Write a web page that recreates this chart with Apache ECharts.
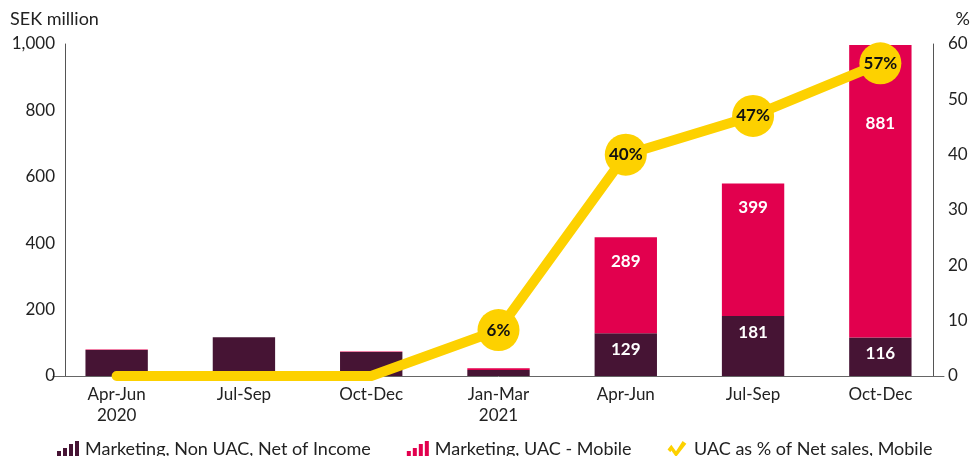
<!DOCTYPE html>
<html>
<head>
<meta charset="utf-8">
<script src="https://cdn.jsdelivr.net/npm/echarts@6/dist/echarts.min.js"></script>
<style>html,body{margin:0;padding:0;background:#fff}#c{width:978px;height:456px}</style>
</head>
<body>
<div id="c"></div>
<script>
var categories = ['Apr-Jun\n2020', 'Jul-Sep', 'Oct-Dec', 'Jan-Mar\n2021', 'Apr-Jun', 'Jul-Sep', 'Oct-Dec'];
var nonUac = [78, 117, 72, 18, 129, 181, 116];
var uacMobile = [2, 0, 2, 5, 289, 399, 881];
var uacPct = [0, 0, 0, 8.3, 40, 47, 56.5];
var uacPctLabels = ['', '', '', '6%', '40%', '47%', '57%'];
var leftTicks = [0, 200, 400, 600, 800, 1000];
var rightTicks = [0, 10, 20, 30, 40, 50, 60];
var nonUacShowLabel = [false, false, false, false, true, true, true];
var uacShowLabel = [false, false, false, false, true, true, true];

var DARK = '#461434', PINK = '#E2004E', YEL = '#FDD100';
var FONT = 'Lato';
var chart = echarts.init(document.getElementById('c'));

var barIcon = 'path://M0,10h4v6h-4zM6,7h4v9h-4zM12,3h4v13h-4zM18,0h4v16h-4z';
var lineIcon = 'path://M0,9L4,4L9,11L16,0L20,3L9,17L4,10L3,12Z';

chart.setOption({
  animation: false,
  textStyle: {fontFamily: FONT},
  grid: {left: 53, right: 34, top: 44, bottom: 80},
  legend: {
    left: 52, top: 435, itemWidth: 24, itemHeight: 16, itemGap: 36,
    textStyle: {fontFamily: FONT, fontSize: 18, color: '#222'},
    data: [
      {name: 'Marketing, Non UAC, Net of Income', icon: barIcon},
      {name: 'Marketing, UAC - Mobile', icon: barIcon},
      {name: 'UAC as % of Net sales, Mobile', icon: lineIcon}
    ]
  },
  graphic: [
    {type: 'text', left: 10, top: 10, style: {text: 'SEK million', font: '18px ' + FONT, fill: '#222'}},
    {type: 'text', right: 8, top: 10, style: {text: '%', font: '18px ' + FONT, fill: '#222'}}
  ],
  xAxis: {
    type: 'category', data: categories,
    axisLine: {lineStyle: {color: '#666', width: 1}},
    axisTick: {show: false},
    axisLabel: {fontSize: 17, color: '#222', margin: 8, lineHeight: 21, fontFamily: FONT}
  },
  yAxis: [
    {type: 'value', min: leftTicks[0], max: leftTicks[leftTicks.length - 1], interval: 200, offset: -12,
     axisLine: {show: true, lineStyle: {color: '#555'}}, axisTick: {show: false}, splitLine: {show: false},
     axisLabel: {fontSize: 17, color: '#222', margin: 10, fontFamily: FONT,
       formatter: function (v) { return v.toLocaleString('en-US'); }}},
    {type: 'value', min: rightTicks[0], max: rightTicks[rightTicks.length - 1], interval: 10, offset: -11,
     position: 'right',
     axisLine: {show: true, lineStyle: {color: '#555'}}, axisTick: {show: false}, splitLine: {show: false},
     axisLabel: {fontSize: 17, color: '#222', margin: 15, fontFamily: FONT}}
  ],
  series: [
    {
      name: 'Marketing, Non UAC, Net of Income', type: 'bar', stack: 'm', barWidth: '49%',
      itemStyle: {color: DARK},
      data: nonUac.map(function (v, i) {
        return {value: v, label: {show: nonUacShowLabel[i]}};
      }),
      label: {position: 'insideTop', distance: 8, color: '#fff', fontWeight: 'bold', fontSize: 17, fontFamily: FONT}
    },
    {
      name: 'Marketing, UAC - Mobile', type: 'bar', stack: 'm', barWidth: '49%',
      itemStyle: {color: PINK},
      data: uacMobile.map(function (v, i) {
        return {value: v, label: {show: uacShowLabel[i], distance: i === 6 ? 70 : 16}};
      }),
      label: {position: 'insideTop', color: '#fff', fontWeight: 'bold', fontSize: 17, fontFamily: FONT}
    },
    {
      name: 'UAC as % of Net sales, Mobile', type: 'line', yAxisIndex: 1, z: 5,
      itemStyle: {color: YEL},
      lineStyle: {color: YEL, width: 10, cap: 'round', join: 'round'},
      symbol: 'circle',
      data: uacPct.map(function (v, i) {
        return {value: v, symbolSize: uacPctLabels[i] ? 42 : 0};
      }),
      label: {show: true, position: 'inside', color: '#111', fontWeight: 'bold', fontSize: 17, fontFamily: FONT,
        formatter: function (p) { return uacPctLabels[p.dataIndex]; }}
    }
  ]
});
</script>
</body>
</html>
